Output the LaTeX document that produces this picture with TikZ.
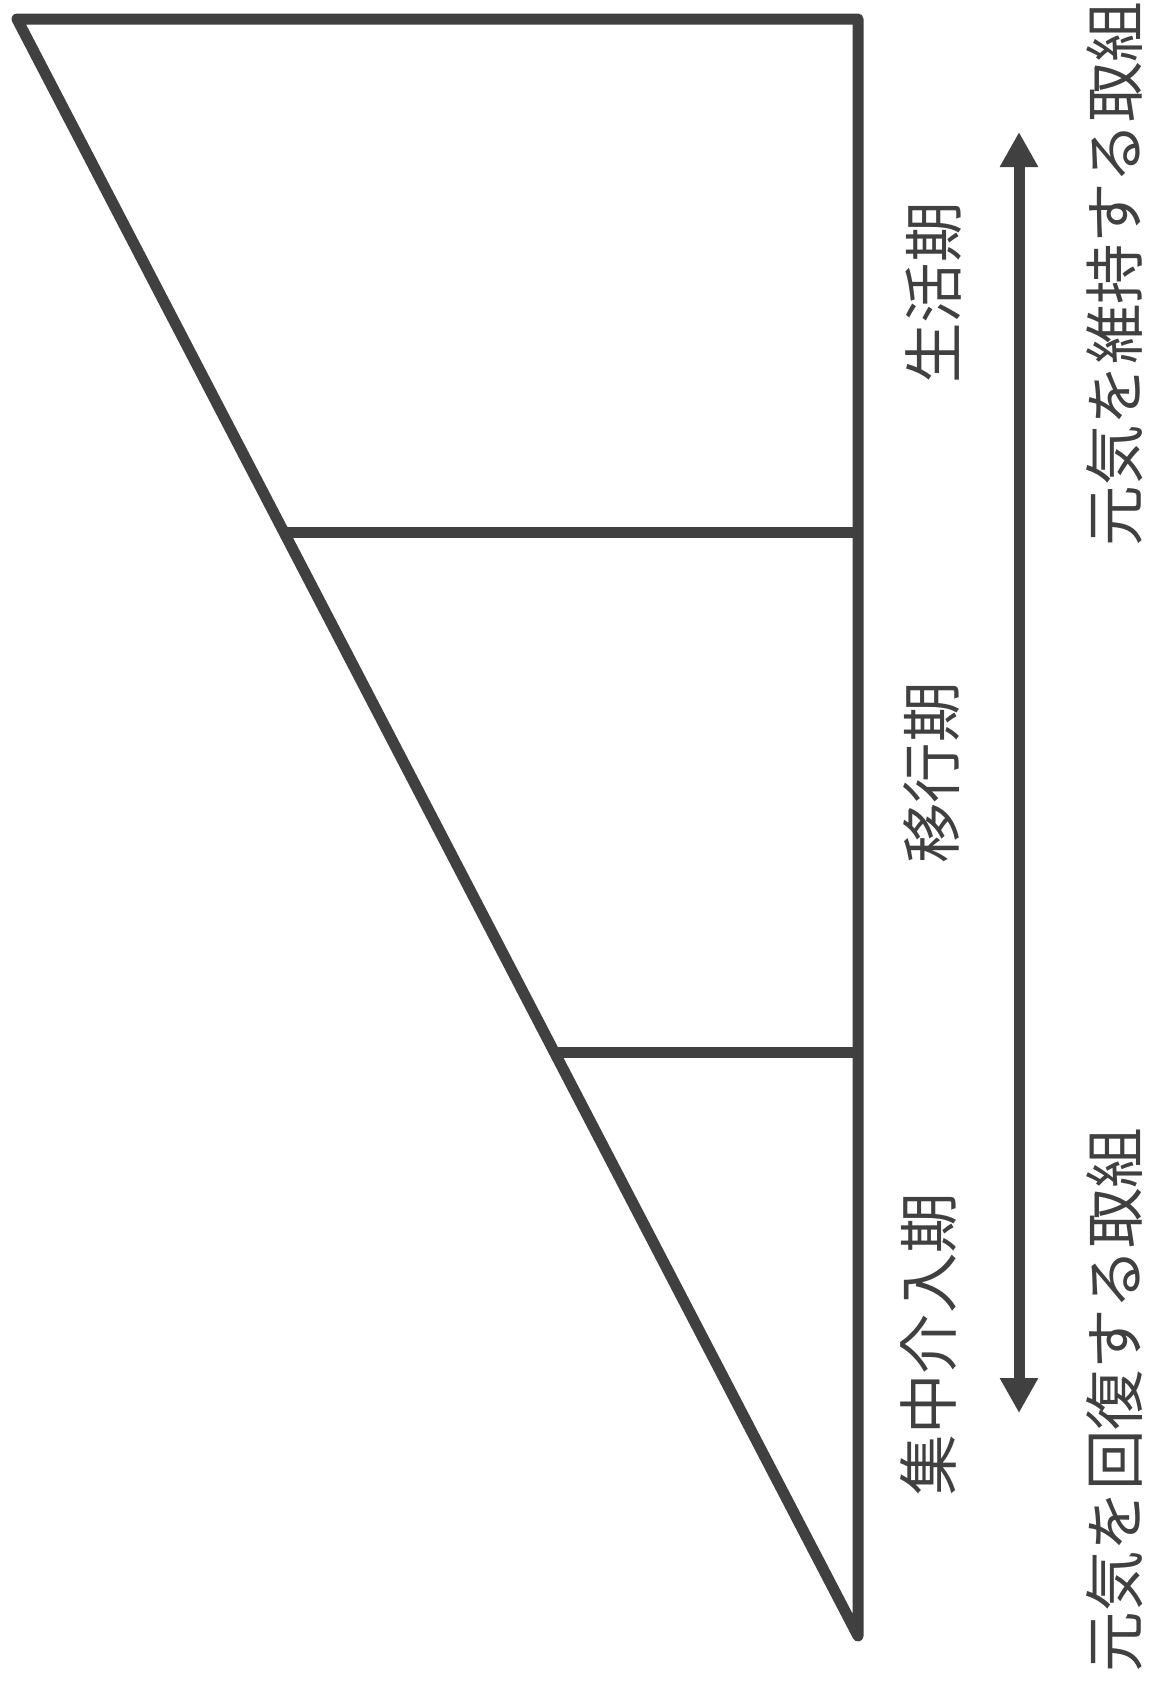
\documentclass[tikz,border=0pt]{standalone}
\usepackage{fontspec}
\newfontfamily\cjk{Noto Sans CJK JP}
\usetikzlibrary{arrows.meta}
\definecolor{ink}{RGB}{64,64,64}
\tikzset{
  frame/.style={draw=ink, line width=11pt, line join=round, line cap=round},
  label/.style={text=ink, rotate=90, inner sep=0pt, font=\cjk\fontsize{60.5}{66}\selectfont},
  dblarrow/.style={draw=ink, line width=11pt, {Triangle[length=35pt,width=36pt]}-{Triangle[length=35pt,width=36pt]}}
}
\begin{document}
\begin{tikzpicture}[x=1pt,y=-1pt]
\useasboundingbox (0,0) rectangle (1150,1687);
\fill[white] (0,0) rectangle (1150,1687);
\coordinate (tl) at (17,19);
\coordinate (tr) at (858,19);
\coordinate (bt) at (858,1636);
\coordinate (d1) at (287,532);
\coordinate (r1) at (858,532);
\coordinate (d2) at (555,1052);
\coordinate (r2) at (858,1052);
\draw[frame] (tl) -- (tr) -- (bt) -- cycle;
\draw[frame, line cap=butt] (d1) -- (r1);
\draw[frame, line cap=butt] (d2) -- (r2);
\coordinate (atop) at (1019,132);
\coordinate (abot) at (1019,1413);
\draw[dblarrow] (atop) -- (abot);
\node[label] (p1) at (934,293) {生活期};
\node[label] (p2) at (932,773) {移行期};
\node[label] (p3) at (929,1344) {集中介入期};
\node[label] (m1) at (1115,274) {元気を維持する取組};
\node[label] (m2) at (1115,1400) {元気を回復する取組};
\end{tikzpicture}
\end{document}
